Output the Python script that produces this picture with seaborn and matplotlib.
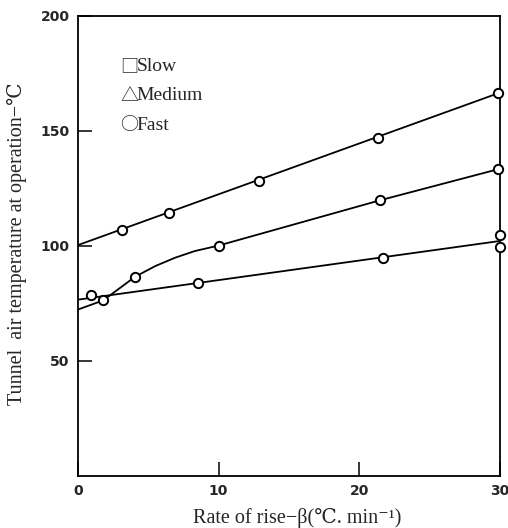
import pandas as pd
import seaborn as sns
from matplotlib import pyplot as plt

# measured points (all drawn as open circles in the original)
fast_x = [3.1, 6.5, 12.9, 21.3, 29.9]
fast_y = [106.9, 114.3, 128.2, 146.9, 166.3]
medium_x = [1.8, 4.05, 10.0, 21.5, 29.9]
medium_y = [76.3, 86.5, 100.1, 119.8, 133.3]
slow_x = [0.95, 8.5, 21.7, 30.0, 30.0]
slow_y = [78.7, 83.7, 94.8, 104.7, 99.5]

# drawn curves
fast_line_x = [0, 29.9]
fast_line_y = [100.3, 166.3]
medium_line_x = [0, 1.8, 4.05, 5.5, 6.9, 8.3, 10.0, 21.5, 29.9]
medium_line_y = [72.3, 76.3, 86.5, 91.2, 94.8, 97.7, 100.1, 119.8, 133.3]
slow_line_x = [0, 29.9]
slow_line_y = [76.6, 102.0]

legend_symbols = ["\u25a1", "\u25b3", "\u25cb"]
legend_names = ["Slow", "Medium", "Fast"]
x_ticks = [0, 10, 20, 30]
y_ticks = [50, 100, 150, 200]

sns.set_style("ticks")
plt.rcParams["font.family"] = ["Liberation Serif", "DejaVu Serif", "DejaVu Sans"]

fig = plt.figure(figsize=(5.08, 5.28), dpi=100)
ax = fig.add_axes([0.1535, 0.0985, 0.8305, 0.872])

lines = pd.concat([
    pd.DataFrame({"x": fast_line_x, "y": fast_line_y, "s": "fast"}),
    pd.DataFrame({"x": medium_line_x, "y": medium_line_y, "s": "medium"}),
    pd.DataFrame({"x": slow_line_x, "y": slow_line_y, "s": "slow"}),
])
points = pd.DataFrame({
    "x": fast_x + medium_x + slow_x,
    "y": fast_y + medium_y + slow_y,
})

sns.lineplot(data=lines, x="x", y="y", units="s", estimator=None, sort=False,
             color="black", lw=1.3, ax=ax, legend=False)
sns.scatterplot(data=points, x="x", y="y", marker="o", s=45, facecolor="white",
                edgecolor="black", linewidth=1.4, ax=ax, zorder=5, clip_on=False)

ax.set_xlim(0, 30)
ax.set_ylim(0, 200)
ax.set_xticks(x_ticks)
ax.set_yticks(y_ticks)
ax.tick_params(direction="in", length=10, width=1.3, labelsize=10, pad=6)
for lab in ax.get_xticklabels() + ax.get_yticklabels():
    lab.set_fontweight("heavy")
    lab.set_family("DejaVu Sans")
for sp in ax.spines.values():
    sp.set_linewidth(1.3)
    sp.set_color("black")

# hand-written key: full-width symbols (CJK font) followed by serif names
for i, (sym, name) in enumerate(zip(legend_symbols, legend_names)):
    st = ax.text(0.1, 0.89 - i * 0.064, sym, transform=ax.transAxes, fontsize=13,
                 va="center", ha="left", family="Noto Sans CJK JP")
    ax.annotate(name, xy=(0.92, 0.5), xycoords=st, fontsize=14,
                va="center", ha="left", family="Liberation Serif")

ax.set_xlabel("Rate of rise\u2212\u03b2(\u2103. min\u207b\u00b9)", fontsize=14.5)
ax.set_ylabel("Tunnel  air temperature at operation\u2212\u2103", fontsize=14.5)
ax.xaxis.set_label_coords(0.52, -0.07)
ax.yaxis.set_label_coords(-0.12, 0.505)

plt.savefig("out.png", dpi=100)
plt.close()
